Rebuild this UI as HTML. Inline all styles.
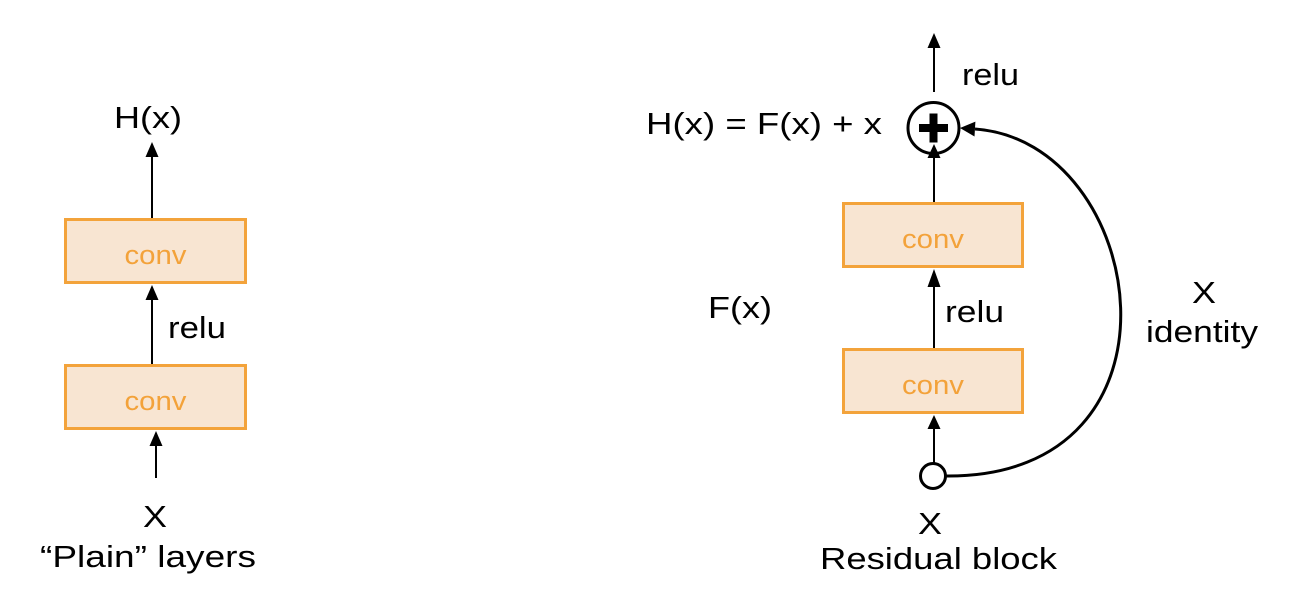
<!DOCTYPE html>
<html>
<head>
<meta charset="utf-8">
<style>
  html, body { margin:0; padding:0; background:#ffffff; }
  body { width:1294px; height:614px; overflow:hidden; }
  svg { display:block; }
  text { font-family: "Liberation Sans", Arial, sans-serif; fill:#000; }
  .conv { fill:#F3A23A; font-size:27px; }
  .lbl { font-size:31px; }
</style>
</head>
<body>
<svg width="1294" height="614" viewBox="0 0 1294 614" xmlns="http://www.w3.org/2000/svg">
  <!-- ===== LEFT: Plain layers ===== -->
  <line x1="152" y1="156" x2="152" y2="219" stroke="#000" stroke-width="2"/>
  <polygon points="152,142 145.5,157 158.5,157" fill="#000"/>
  <text class="lbl" x="114" y="128" textLength="68" lengthAdjust="spacingAndGlyphs">H(x)</text>

  <rect x="65.5" y="219.5" width="180" height="63" fill="#F8E5D2" stroke="#F3A33B" stroke-width="3"/>
  <text class="conv" x="124.5" y="264" textLength="62" lengthAdjust="spacingAndGlyphs">conv</text>

  <line x1="152" y1="299" x2="152" y2="365" stroke="#000" stroke-width="2"/>
  <polygon points="152,285 145.5,300 158.5,300" fill="#000"/>
  <text class="lbl" x="168" y="338" textLength="58" lengthAdjust="spacingAndGlyphs">relu</text>

  <rect x="65.5" y="365.5" width="180" height="63" fill="#F8E5D2" stroke="#F3A33B" stroke-width="3"/>
  <text class="conv" x="124.5" y="410" textLength="62" lengthAdjust="spacingAndGlyphs">conv</text>

  <line x1="156" y1="444" x2="156" y2="478" stroke="#000" stroke-width="2"/>
  <polygon points="156,431 149.5,446 162.5,446" fill="#000"/>

  <text class="lbl" x="143" y="527" textLength="24" lengthAdjust="spacingAndGlyphs">X</text>
  <text class="lbl" x="40" y="567" textLength="216" lengthAdjust="spacingAndGlyphs">“Plain” layers</text>

  <!-- ===== RIGHT: Residual block ===== -->
  <line x1="934" y1="47" x2="934" y2="92" stroke="#000" stroke-width="2"/>
  <polygon points="934,33 927.5,48 940.5,48" fill="#000"/>
  <text class="lbl" x="962" y="85" textLength="57" lengthAdjust="spacingAndGlyphs">relu</text>

  <text class="lbl" x="646" y="134" textLength="236" lengthAdjust="spacingAndGlyphs">H(x) = F(x) + x</text>

  <circle cx="933.5" cy="128" r="25.5" fill="#fff" stroke="#000" stroke-width="3"/>
  <rect x="919" y="124" width="29" height="8" fill="#000"/>
  <rect x="929.5" y="113.5" width="8" height="29" fill="#000"/>

  <line x1="934" y1="157" x2="934" y2="203" stroke="#000" stroke-width="2"/>
  <polygon points="934,144 927.5,158 940.5,158" fill="#000"/>

  <rect x="843.5" y="203.5" width="179" height="63" fill="#F8E5D2" stroke="#F3A33B" stroke-width="3"/>
  <text class="conv" x="902" y="248" textLength="62" lengthAdjust="spacingAndGlyphs">conv</text>

  <line x1="934" y1="286" x2="934" y2="349" stroke="#000" stroke-width="2"/>
  <polygon points="934,269 927.5,287 940.5,287" fill="#000"/>
  <text class="lbl" x="945" y="322" textLength="59" lengthAdjust="spacingAndGlyphs">relu</text>
  <text class="lbl" x="708" y="318" textLength="64" lengthAdjust="spacingAndGlyphs">F(x)</text>

  <rect x="843.5" y="349.5" width="179" height="63" fill="#F8E5D2" stroke="#F3A33B" stroke-width="3"/>
  <text class="conv" x="902" y="394" textLength="62" lengthAdjust="spacingAndGlyphs">conv</text>

  <line x1="934" y1="428" x2="934" y2="463" stroke="#000" stroke-width="2"/>
  <polygon points="934,415 927.5,429 940.5,429" fill="#000"/>

  <path d="M946,476 C1200,478 1148,141 975,129" fill="none" stroke="#000" stroke-width="3"/>
  <polygon points="960,128 975.4,121.6 974.5,136.5" fill="#000"/>

  <circle cx="933" cy="476" r="12.5" fill="#fff" stroke="#000" stroke-width="3"/>

  <text class="lbl" x="1192" y="303" textLength="24" lengthAdjust="spacingAndGlyphs">X</text>
  <text class="lbl" x="1146" y="342" textLength="112" lengthAdjust="spacingAndGlyphs">identity</text>

  <text class="lbl" x="918" y="534" textLength="24" lengthAdjust="spacingAndGlyphs">X</text>
  <text class="lbl" x="820" y="569" textLength="237" lengthAdjust="spacingAndGlyphs">Residual block</text>
</svg>
</body>
</html>
